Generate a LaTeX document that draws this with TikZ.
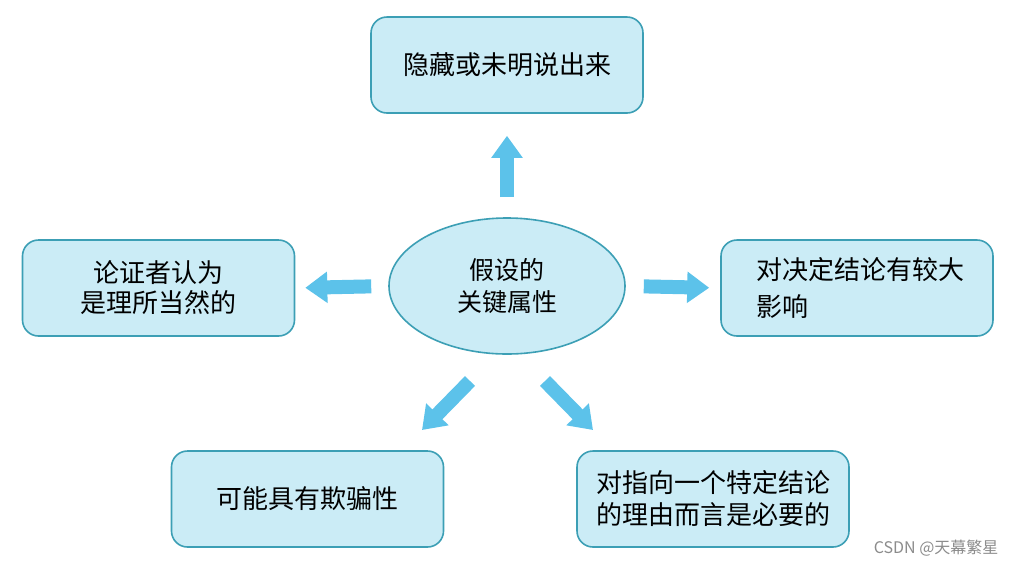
\documentclass[tikz,border=0pt]{standalone}
\usepackage{fontspec}
\setmainfont{Noto Sans CJK SC}
\newfontfamily\wmfont{Noto Sans CJK SC}
\usetikzlibrary{arrows.meta,shapes.geometric}
\definecolor{boxfill}{HTML}{CBECF6}
\definecolor{boxline}{HTML}{3C9FB5}
\definecolor{arrowc}{HTML}{5CC2EA}
\begin{document}
\begin{tikzpicture}[x=1pt,y=-1pt,
  box/.style={draw=boxline,fill=boxfill,line width=1.6pt,rounded corners=16pt,
    minimum width=272pt,minimum height=96pt,inner sep=0pt,font=\fontsize{26}{31}\selectfont},
  oval/.style={ellipse,draw=boxline,fill=boxfill,line width=1.6pt,
    minimum width=236pt,minimum height=136pt,inner sep=0pt,font=\fontsize{25}{32}\selectfont},
  arr/.style={draw=arrowc,line width=14pt,-{Triangle[width=30pt,length=22pt]}}]
\useasboundingbox (0,0) rectangle (1015,566);
\fill[white] (0,0) rectangle (1015,566);
\node[oval,align=center] (c) at (507,286) {假设的\\关键属性};
\node[box] (top) at (507,65) {隐藏或未明说出来};
\node[box,align=center,font=\fontsize{26}{30}\selectfont] (left) at (158.5,288) {论证者认为\\是理所当然的};
\node[box,align=left,text width=202pt,font=\fontsize{26}{37}\selectfont] (right) at (857,288) {对决定结论有较大\\影响};
\node[box] (bl) at (307.5,499) {可能具有欺骗性};
\node[box,align=left,font=\fontsize{26}{32}\selectfont] (br) at (713,499) {对指向一个特定结论\\的理由而言是必要的};
\draw[arr,shorten <=20pt,shorten >=22pt] (c.north) -- (top.south);
\draw[arr,shorten <=17pt,shorten >=10pt] (c.west) -- (left.east);
\draw[arr,shorten <=18pt,shorten >=11pt] (c.east) -- (right.west);
\coordinate (dl1) at (470,381);
\coordinate (dl2) at (422,430);
\coordinate (dr1) at (545,381);
\coordinate (dr2) at (593,430);
\draw[arr] (dl1) -- (dl2);
\draw[arr] (dr1) -- (dr2);
\node[text=black!45,font=\wmfont\fontsize{16}{18}\selectfont,anchor=east] (wm) at (1002,548) {CSDN @天幕繁星};
\end{tikzpicture}
\end{document}
